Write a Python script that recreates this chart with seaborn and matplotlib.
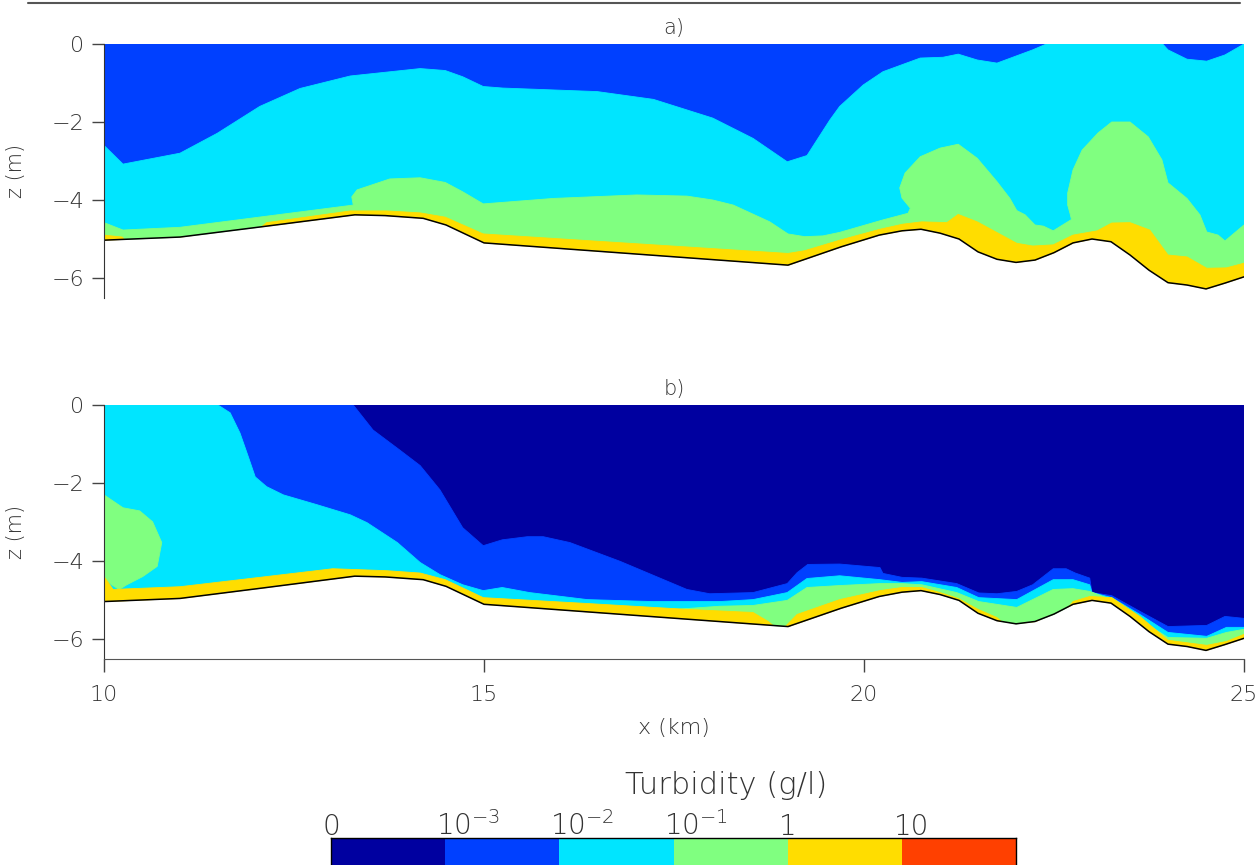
import numpy as np
import seaborn as sns
import matplotlib
matplotlib.use('Agg')
import matplotlib.pyplot as plt
from matplotlib.colors import ListedColormap
from matplotlib.lines import Line2D
from matplotlib import transforms

# colour classes of the turbidity scale
class_colors = ['#0000A0', '#0040FF', '#00E5FF', '#80FF80', '#FFDD00', '#FF4000']
class_labels = ['0', r'$10^{-3}$', r'$10^{-2}$', r'$10^{-1}$', '1', '10']

# bed profile (km, m)
bath_x = [10, 11, 12.1, 13.3, 13.7, 14.2, 14.5, 15.0, 19.0, 19.7, 20.2, 20.5, 20.75, 21.0,
          21.25, 21.5, 21.75, 22.0, 22.25, 22.5, 22.75, 23.0, 23.25, 23.5, 23.75, 24.0,
          24.25, 24.5, 24.75, 25.0]
bath_z = [-5.03, -4.95, -4.68, -4.38, -4.4, -4.47, -4.64, -5.1, -5.67, -5.2, -4.9, -4.79,
          -4.75, -4.85, -5.0, -5.33, -5.52, -5.6, -5.54, -5.35, -5.1, -5.0, -5.07, -5.41,
          -5.8, -6.12, -6.18, -6.28, -6.13, -5.97]

# panel a) upper limits of each class
a_cyan_x = [10, 10.25, 11.0, 11.49, 12.05, 12.58, 13.24, 14.16, 14.49, 14.72, 14.99, 15.25,
            16.49, 17.23, 18.01, 18.54, 18.99, 19.25, 19.55, 19.68, 19.99, 20.25, 20.74,
            21.04, 21.24, 21.49, 21.75, 22.22, 22.4, 23.93, 24.0, 24.25, 24.51, 24.75, 25.0]
a_cyan_z = [-2.6, -3.08, -2.8, -2.29, -1.6, -1.14, -0.82, -0.63, -0.68, -0.84, -1.09, -1.13,
            -1.22, -1.42, -1.9, -2.42, -3.02, -2.86, -1.95, -1.6, -1.05, -0.71, -0.36,
            -0.34, -0.26, -0.41, -0.49, -0.15, 0.0, 0.0, -0.15, -0.39, -0.44, -0.28, 0.0]

a_green_x = [10, 10.25, 11.0, 13.28, 13.26, 13.33, 13.76, 14.16, 14.49, 14.72, 14.99, 15.91,
             17.01, 17.67, 18.01, 18.28, 18.76, 19.0, 19.22, 19.46, 19.68, 20.25, 20.58,
             20.61, 20.5, 20.47, 20.54, 20.74, 21.0, 21.24, 21.49, 21.75, 21.92, 22.01,
             22.12, 22.25, 22.36, 22.49, 22.73, 22.71, 22.68, 22.68, 22.75, 22.87, 23.08,
             23.26, 23.5, 23.74, 23.92, 24.0, 24.25, 24.42, 24.51, 24.66, 24.75, 25.0]
a_green_z = [-4.58, -4.77, -4.7, -4.13, -3.92, -3.74, -3.46, -3.43, -3.55, -3.79, -4.1, -3.96,
             -3.87, -3.9, -4.0, -4.13, -4.56, -4.87, -4.94, -4.92, -4.83, -4.51, -4.34,
             -4.21, -3.95, -3.69, -3.31, -2.89, -2.67, -2.57, -2.93, -3.53, -3.96, -4.27,
             -4.38, -4.64, -4.67, -4.79, -4.5, -4.34, -4.13, -3.82, -3.23, -2.72, -2.28,
             -2.0, -2.0, -2.38, -2.97, -3.56, -3.96, -4.38, -4.82, -4.9, -5.05, -4.64]

a_yellow_x = [10, 10.24, 10.3, 12.0, 12.14, 13.24, 13.72, 14.16, 14.49, 14.99, 19.0, 19.22,
              19.68, 20.21, 20.51, 20.76, 21.09, 21.24, 21.49, 22.01, 22.22, 22.49, 22.75,
              23.07, 23.26, 23.5, 23.76, 24.0, 24.25, 24.51, 24.77, 25.0]
a_yellow_z = [-4.9, -4.95, -5.1, -4.8, -4.58, -4.28, -4.28, -4.33, -4.44, -4.87, -5.37, -5.3,
              -5.03, -4.75, -4.62, -4.56, -4.58, -4.37, -4.56, -5.11, -5.18, -5.15, -4.9,
              -4.79, -4.59, -4.58, -4.77, -5.41, -5.46, -5.75, -5.74, -5.62]

# panel b) upper limits of each class
b_blue_x = [10, 13.28, 13.54, 13.89, 14.16, 14.42, 14.72, 14.99, 15.24, 15.57, 15.78, 16.13,
            16.79, 17.67, 17.97, 18.54, 18.99, 19.12, 19.26, 19.68, 20.21, 20.25, 20.5,
            20.76, 21.22, 21.51, 21.75, 22.01, 22.22, 22.49, 22.66, 22.78, 22.97, 23.0,
            23.26, 23.63, 24.0, 24.51, 24.75, 25.0]
b_blue_z = [0, 0, -0.64, -1.15, -1.55, -2.17, -3.14, -3.6, -3.45, -3.37, -3.37, -3.52,
            -4.0, -4.72, -4.83, -4.8, -4.57, -4.29, -4.08, -4.07, -4.16, -4.31, -4.41,
            -4.43, -4.57, -4.81, -4.83, -4.77, -4.6, -4.19, -4.19, -4.3, -4.43, -4.8,
            -4.88, -5.28, -5.67, -5.64, -5.41, -5.46]

b_cyan_x = [10, 11.5, 11.66, 11.79, 11.9, 11.99, 12.14, 12.36, 12.8, 13.24, 13.46, 13.86,
            14.16, 14.42, 14.72, 14.99, 15.24, 15.6, 16.36, 17.22, 18.1, 18.54, 18.99,
            19.25, 19.68, 20.21, 20.5, 20.76, 21.22, 21.51, 22.01, 22.49, 22.75, 22.97,
            23.0, 23.26, 23.63, 24.0, 24.51, 24.77, 25.0]
b_cyan_z = [0, 0, -0.2, -0.72, -1.33, -1.84, -2.09, -2.3, -2.55, -2.81, -3.01, -3.52,
            -4.03, -4.34, -4.6, -4.75, -4.67, -4.8, -4.98, -5.03, -5.03, -4.98, -4.8,
            -4.44, -4.37, -4.47, -4.54, -4.52, -4.67, -4.93, -4.98, -4.47, -4.47, -4.6,
            -4.8, -4.93, -5.36, -5.82, -5.92, -5.69, -5.69]

b_blob_x = [10, 10.25, 10.47, 10.64, 10.76, 10.7, 10.51, 10.3, 10.2, 10.1, 10]
b_blob_z = [-2.3, -2.63, -2.71, -2.99, -3.52, -4.13, -4.39, -4.6, -4.72, -4.6, -4.45]

b_green_x = [10, 17.0, 18.1, 18.54, 18.99, 19.25, 19.68, 20.21, 20.5, 20.76, 21.22, 21.51,
             22.01, 22.49, 22.75, 22.97, 23.26, 23.63, 24.0, 24.51, 24.77, 25.0]
b_green_z = [-5.5, -5.3, -5.15, -5.13, -5.0, -4.67, -4.62, -4.57, -4.57, -4.6, -4.8, -5.03,
             -5.18, -4.72, -4.7, -4.77, -4.98, -5.49, -5.95, -5.97, -5.82, -5.74]

b_yellow_x = [10, 10.12, 11.0, 12.14, 13.01, 13.72, 14.16, 14.49, 14.99, 16.36, 17.67, 18.54,
              18.74, 18.9, 19.12, 19.68, 20.21, 20.5, 20.76, 21.0, 21.24, 21.5, 21.75, 21.9,
              22.6, 22.75, 22.97, 23.26, 23.63, 24.0, 24.51, 24.77, 25.0]
b_yellow_z = [-4.39, -4.72, -4.65, -4.39, -4.19, -4.24, -4.3, -4.47, -4.93, -5.08, -5.23,
              -5.31, -5.54, -5.8, -5.36, -4.98, -4.75, -4.67, -4.67, -4.8, -4.95, -5.23,
              -5.44, -5.7, -5.4, -5.03, -4.9, -4.93, -5.41, -6.02, -6.15, -6.05, -5.87]

sns.set_style('ticks')
plt.rcParams['font.family'] = ['DejaVu Sans']
plt.rcParams['font.weight'] = 'light'
plt.rcParams['axes.labelweight'] = 'light'
txt = '#333333'

W, H = 1259, 865
fig = plt.figure(figsize=(W / 100, H / 100), dpi=100)
ax_a = fig.add_axes([104 / W, 1 - 297.5 / H, 1140 / W, 253.5 / H])
ax_b = fig.add_axes([104 / W, 1 - 659 / H, 1140 / W, 254 / H])

fig.add_artist(Line2D([28 / W, 1240 / W], [1 - 3 / H, 1 - 3 / H], color='#555555', lw=1.5))


def layer(ax, x, z, color, closed=False):
    x = list(x)
    z = list(z)
    if not closed:
        x = x + [25, 10]
        z = z + [-7, -7]
    ax.fill(x, z, color=color, lw=0.6, ec=color)


def panel(ax, background, layers, title):
    ax.set_facecolor(background)
    for x, z, c, closed in layers:
        layer(ax, x, z, c, closed)
    ax.fill_between(bath_x, bath_z, -7, color='white', lw=0)
    sns.lineplot(x=bath_x, y=bath_z, ax=ax, color='black', lw=1.1, estimator=None, sort=False)
    ax.set_xlim(10, 25)
    ax.set_ylim(-6.5, 0)
    ax.set_yticks([0, -2, -4, -6])
    ax.set_ylabel('z (m)', fontsize=15, color=txt)
    ax.yaxis.set_label_coords(-0.068, 0.5)
    ax.text(0.5, 1.063, title, transform=ax.transAxes, ha='center', va='center',
            fontsize=15, color=txt)
    for s in ['top', 'right']:
        ax.spines[s].set_visible(False)
    ax.spines['left'].set_color('#333333')
    ax.spines['bottom'].set_color('#555555')
    ax.tick_params(axis='both', direction='out', length=9, width=1, color='#444444',
                   labelsize=16, labelcolor=txt)
    ax.tick_params(axis='y', pad=5)


panel(ax_a, class_colors[1], [
    (a_cyan_x, a_cyan_z, class_colors[2], False),
    (a_green_x, a_green_z, class_colors[3], False),
    (a_yellow_x, a_yellow_z, class_colors[4], False),
], 'a)')
ax_a.spines['bottom'].set_visible(False)
ax_a.set_xticks([])
ax_a.set_xlabel('')

panel(ax_b, class_colors[0], [
    (b_blue_x, b_blue_z, class_colors[1], False),
    (b_cyan_x, b_cyan_z, class_colors[2], False),
    (b_blob_x, b_blob_z, class_colors[3], True),
    (b_green_x, b_green_z, class_colors[3], False),
    (b_yellow_x, b_yellow_z, class_colors[4], False),
], 'b)')
ax_b.set_xticks([10, 15, 20, 25])
ax_b.tick_params(axis='x', pad=10)
ax_b.set_xlabel('x (km)', fontsize=16, color=txt, labelpad=9)

# colour bar
cax = fig.add_axes([331 / W, -0.03, 685 / W, 0.0612])
sns.heatmap(np.arange(len(class_colors)).reshape(1, -1), ax=cax,
            cmap=ListedColormap(class_colors), cbar=False,
            xticklabels=False, yticklabels=False)
for s in cax.spines.values():
    s.set_visible(True)
    s.set_color('black')
    s.set_linewidth(1)
trans = transforms.blended_transform_factory(cax.transData, fig.transFigure)
shift = [0, 0.2, 0.2, 0.2, 0, 0.09]
for i, lab in enumerate(class_labels):
    cax.text(i + shift[i], 1 - 835 / H, lab, transform=trans, ha='center', va='baseline',
             fontsize=20, color=txt, clip_on=False)
fig.text(726 / W, 1 - 785 / H, 'Turbidity (g/l)', ha='center', va='center',
         fontsize=22, color=txt)

fig.savefig('out.png', dpi=100)
